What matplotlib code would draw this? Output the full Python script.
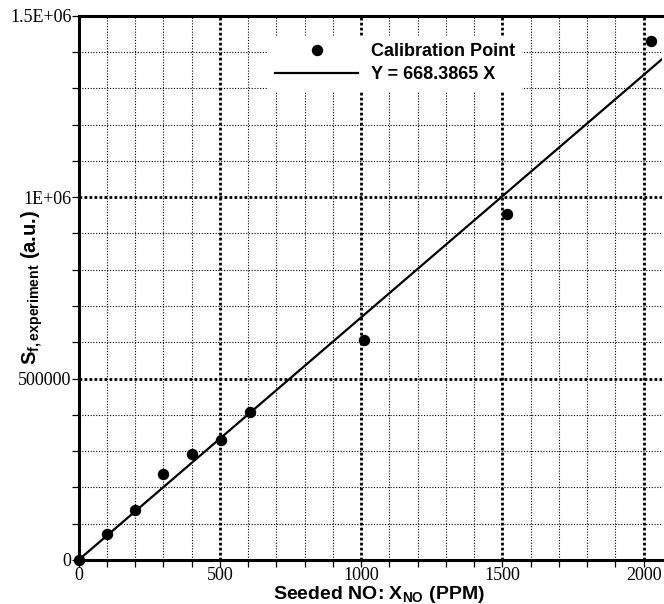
import numpy as np
import matplotlib
matplotlib.use("Agg")
from matplotlib import pyplot as plt
from matplotlib.ticker import MultipleLocator

# Seeded NO concentration (PPM) and measured fluorescence signal (a.u.)
x_ppm = [0, 100, 200, 300, 400, 505, 607, 1010, 1517, 2025]
s_signal = [0, 71000, 138000, 236000, 293000, 330000, 409000, 607000, 954000, 1429000]

SLOPE = 668.3865
X_MAX = 2065
Y_MAX = 1.5e6

y_ticks = [0, 500000, 1e6, 1.5e6]
y_tick_labels = ["0", "500000", "1E+06", "1.5E+06"]
x_ticks = [0, 500, 1000, 1500, 2000]

plt.rcParams["mathtext.fontset"] = "custom"
plt.rcParams["mathtext.rm"] = "Liberation Sans:bold"
plt.rcParams["mathtext.bf"] = "Liberation Sans:bold"
plt.rcParams["mathtext.it"] = "Liberation Sans:bold"

W, H = 664, 604
fig = plt.figure(figsize=(W / 100, H / 100), dpi=100)
left, right, top, bottom = 78.5, 662, 15.7, 560
ax = fig.add_axes([left / W, 1 - bottom / H, (right - left) / W, (bottom - top) / H])

# fit line through origin
xl = np.array([0, X_MAX])
ax.plot(xl, SLOPE * xl, color="black", linewidth=1.6, label="Y = 668.3865 X", zorder=3)
ax.plot(x_ppm, s_signal, linestyle="none", marker="o", markersize=7.2,
        color="black", label="Calibration Point", zorder=4, clip_on=False)

ax.set_xlim(0, X_MAX)
ax.set_ylim(0, Y_MAX)

ax.set_xticks(x_ticks)
ax.xaxis.set_minor_locator(MultipleLocator(100))
ax.set_yticks(y_ticks, y_tick_labels)
ax.yaxis.set_minor_locator(MultipleLocator(100000))

for lab in ax.get_xticklabels() + ax.get_yticklabels():
    lab.set_fontfamily("Liberation Serif")
    lab.set_fontsize(13)

ax.tick_params(which="both", direction="out", length=5, width=0.9, color="black", pad=0)

ax.grid(True, which="major", color="black", linestyle=(0, (1, 0.8)), linewidth=2.0)
ax.grid(True, which="minor", color="black", linestyle=(0, (1, 1.5)), linewidth=0.8)
ax.set_axisbelow(True)

for side in ["left", "bottom", "top"]:
    ax.spines[side].set_linewidth(2.2)
ax.spines["right"].set_visible(False)

ax.set_xlabel(r"Seeded NO: X$_{\mathrm{NO}}$ (PPM)", fontsize=14, fontweight="bold",
              fontfamily="Liberation Sans")
ax.xaxis.set_label_coords(0.515, -0.0445)
ax.xaxis.label.set_va("top")
ax.set_ylabel(r"S$_{\mathrm{f,experiment}}$ (a.u.)", fontsize=14.5, fontweight="bold",
              fontfamily="Liberation Sans")
ax.yaxis.set_label_coords(-0.058, 0.5)

handles, labels = ax.get_legend_handles_labels()
leg = ax.legend(handles[::-1], labels[::-1], loc="center", bbox_to_anchor=(0.543, 0.9125),
                frameon=True, facecolor="white", edgecolor="none", framealpha=1,
                fancybox=False, handlelength=4.6, handletextpad=0.7, labelspacing=0.33,
                borderpad=0.4, prop={"family": "Liberation Sans", "weight": "bold", "size": 13})

fig.savefig("out.png", dpi=100)
plt.close(fig)
